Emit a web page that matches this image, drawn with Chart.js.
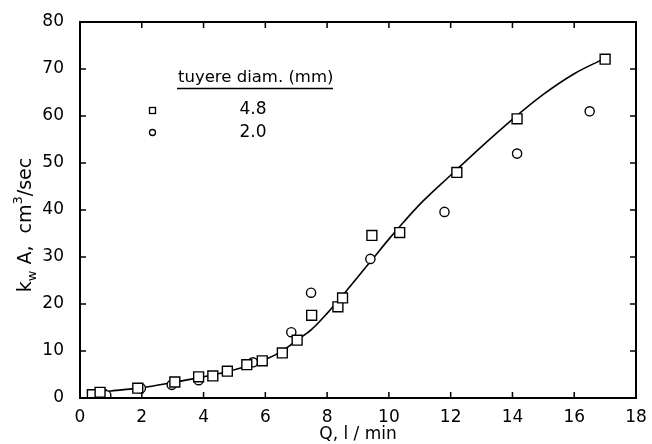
<!DOCTYPE html>
<html>
<head>
<meta charset="utf-8">
<script src="https://cdn.jsdelivr.net/npm/chart.js@4"></script>
<style>
  html, body { margin: 0; padding: 0; background: #fff; }
  #wrap { width: 652px; height: 444px; }
</style>
</head>
<body>
<div id="wrap"><canvas id="kwa-chart"></canvas></div>
<script>
// tuyere diam. 4.8 mm (squares)
var q48 = [0.4, 0.65, 1.87, 3.07, 3.84, 4.3, 4.77, 5.4, 5.9, 6.55, 7.03, 7.5, 8.35, 8.5, 9.45, 10.35, 12.2, 14.15, 17.0];
var k48 = [0.7, 1.2, 2.1, 3.4, 4.5, 4.7, 5.7, 7.1, 7.9, 9.6, 12.3, 17.6, 19.4, 21.3, 34.6, 35.2, 48.0, 59.4, 72.1];
// tuyere diam. 2.0 mm (circles)
var q20 = [0.75, 0.85, 1.97, 2.97, 3.84, 5.6, 6.84, 7.48, 9.4, 11.8, 14.15, 16.5];
var k20 = [1.0, 0.6, 2.1, 2.8, 3.8, 7.6, 14.0, 22.4, 29.6, 39.6, 52.0, 61.0];
// smooth curve drawn through the data
var fitQ = [0.4, 1, 2, 3, 4, 5, 6, 6.5, 7, 7.5, 8, 8.5, 9, 9.5, 10, 10.5, 11, 12, 13, 14, 15, 16, 16.9];
var fitK = [1.0, 1.5, 2.2, 3.3, 4.5, 6.0, 8.2, 9.8, 12.2, 14.6, 18.0, 21.8, 25.8, 29.8, 33.8, 37.6, 41.2, 47.4, 53.5, 59.3, 64.6, 69.0, 72.0];

var xTicks = [0, 2, 4, 6, 8, 10, 12, 14, 16, 18];
var yTicks = [0, 10, 20, 30, 40, 50, 60, 70, 80];

function pts(xs, ys) {
  return xs.map(function (x, i) { return {x: x, y: ys[i]}; });
}

var FONT = "DejaVu Sans";

var framePlugin = {
  id: 'frame',
  afterDraw: function (chart) {
    var ctx = chart.ctx, a = chart.chartArea;
    var sx = chart.scales.x, sy = chart.scales.y;
    ctx.save();
    ctx.strokeStyle = '#000';
    ctx.lineWidth = 2;
    ctx.strokeRect(a.left, a.top, a.right - a.left, a.bottom - a.top);
    // inward ticks on all four sides
    ctx.lineWidth = 1.5;
    ctx.beginPath();
    xTicks.forEach(function (v) {
      var px = sx.getPixelForValue(v);
      ctx.moveTo(px, a.bottom); ctx.lineTo(px, a.bottom - 6);
      ctx.moveTo(px, a.top); ctx.lineTo(px, a.top + 6);
    });
    yTicks.forEach(function (v) {
      var py = sy.getPixelForValue(v);
      ctx.moveTo(a.left, py); ctx.lineTo(a.left + 6, py);
      ctx.moveTo(a.right, py); ctx.lineTo(a.right - 6, py);
    });
    ctx.stroke();

    // legend
    ctx.fillStyle = '#000';
    ctx.font = '16.5px ' + FONT;
    ctx.textBaseline = 'alphabetic';
    ctx.textAlign = 'left';
    ctx.fillText('tuyere diam. (mm)', 178, 82);
    ctx.lineWidth = 1.6;
    ctx.beginPath();
    ctx.moveTo(177, 88.5); ctx.lineTo(333, 88.5);
    ctx.stroke();
    ctx.font = '17px ' + FONT;
    ctx.textAlign = 'center';
    ctx.textBaseline = 'middle';
    ctx.fillText('4.8', 253, 110);
    ctx.fillText('2.0', 253, 133);
    ctx.lineWidth = 1.3;
    ctx.strokeRect(149.5, 107.5, 6, 6);
    ctx.beginPath();
    ctx.arc(152.5, 132.5, 3, 0, Math.PI * 2);
    ctx.stroke();

    // x axis title
    ctx.font = '17px ' + FONT;
    ctx.textAlign = 'center';
    ctx.textBaseline = 'middle';
    ctx.fillText('Q, l / min', 358, 435);

    // y axis title with subscript / superscript
    ctx.save();
    ctx.translate(31, 225);
    ctx.rotate(-Math.PI / 2);
    ctx.textAlign = 'left';
    ctx.textBaseline = 'alphabetic';
    var parts = [
      ['k', 19, 0], ['w', 13, 5], [' A,  cm', 19, 0], ['3', 13, -9], ['/sec', 19, 0]
    ];
    var total = 0;
    parts.forEach(function (p) { ctx.font = p[1] + 'px ' + FONT; total += ctx.measureText(p[0]).width; });
    var cx = -total / 2;
    parts.forEach(function (p) {
      ctx.font = p[1] + 'px ' + FONT;
      ctx.fillText(p[0], cx, p[2]);
      cx += ctx.measureText(p[0]).width;
    });
    ctx.restore();

    ctx.restore();
  }
};

new Chart(document.getElementById('kwa-chart').getContext('2d'), {
  type: 'scatter',
  data: {
    datasets: [{
      label: 'fit',
      data: pts(fitQ, fitK),
      showLine: true,
      borderColor: '#000',
      borderWidth: 1.6,
      pointRadius: 0,
      cubicInterpolationMode: 'monotone',
      order: 3
    }, {
      label: '4.8',
      data: pts(q48, k48),
      pointStyle: 'rect',
      pointRadius: 7,
      borderColor: '#000',
      backgroundColor: '#fff',
      pointBorderWidth: 1.4,
      order: 1
    }, {
      label: '2.0',
      data: pts(q20, k20),
      pointStyle: 'circle',
      pointRadius: 4.6,
      borderColor: '#000',
      backgroundColor: '#fff',
      pointBorderWidth: 1.4,
      order: 2
    }]
  },
  options: {
    responsive: true,
    maintainAspectRatio: false,
    animation: false,
    layout: {padding: {top: 22, right: 16, left: 0, bottom: 0}},
    plugins: {legend: {display: false}, tooltip: {enabled: false}},
    scales: {
      x: {
        type: 'linear', min: 0, max: 18,
        grid: {display: false}, border: {display: false},
        afterBuildTicks: function (s) { s.ticks = xTicks.map(function (v) { return {value: v}; }); },
        afterFit: function (s) { s.height = 46; },
        ticks: {color: '#000', font: {family: FONT, size: 17}, padding: 1, maxRotation: 0}
      },
      y: {
        type: 'linear', min: 0, max: 80,
        grid: {display: false}, border: {display: false},
        afterBuildTicks: function (s) { s.ticks = yTicks.map(function (v) { return {value: v}; }); },
        afterFit: function (s) { s.width = 80; },
        ticks: {color: '#000', font: {family: FONT, size: 17}, padding: 8}
      }
    }
  },
  plugins: [framePlugin]
});
</script>
</body>
</html>
